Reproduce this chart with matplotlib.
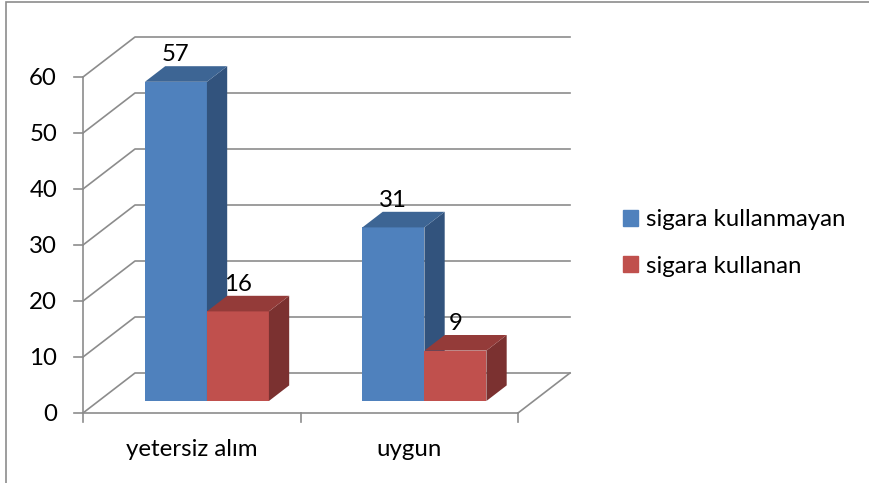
import matplotlib
matplotlib.use('Agg')
import matplotlib.pyplot as plt
from matplotlib.patches import Polygon, Patch, Rectangle

plt.rcParams['font.family'] = ['Lato', 'DejaVu Sans']

categories = ['yetersiz alım', 'uygun']
series_names = ['sigara kullanmayan', 'sigara kullanan']
values = [[57, 31], [16, 9]]
y_ticks = [0, 10, 20, 30, 40, 50, 60]

front_colors = ['#4F81BD', '#C0504D']
side_colors = ['#32537D', '#7B3130']
top_colors = ['#3D6594', '#943B39']

# pixel layout: origin of the plot floor and scale per unit
X0, Y0 = 83, 413
PPX, PPV = 217.5, 5.6

# oblique depth offset of the back wall (data units)
DX = 52 / PPX
DV = 40 / PPV
D0, D1 = 0.3, 0.69
BAR_W = 0.285
BAR_START = 0.213
FS = 17.3


def proj(x, v, d):
    return (x + d * DX, v + d * DV)


fig = plt.figure(figsize=(8.7, 4.83), dpi=100)
ax = fig.add_axes([0, 0, 1, 1])
ax.set_xlim(-X0 / PPX, (870 - X0) / PPX)
ax.set_ylim((Y0 - 483) / PPV, Y0 / PPV)
ax.axis('off')

grid = dict(color='#8C8C8C', lw=1.2, zorder=1)
ncat = len(categories)
for v in y_ticks:
    p0, p1, p2 = proj(0, v, 0), proj(0, v, 1), proj(ncat, v, 1)
    ax.plot([p0[0], p1[0], p2[0]], [p0[1], p1[1], p2[1]], **grid)
    # y tick marks and labels
    ax.plot([-9 / PPX, 0], [v, v], **grid)
    ax.text(-26 / PPX, v - 0.3, str(v), ha='right', va='center', fontsize=FS)

# floor edges and axes
ax.plot([0, ncat], [0, 0], **grid)
ax.plot([0, 0], [0, y_ticks[-1]], **grid)
a, b = proj(ncat, 0, 0), proj(ncat, 0, 1)
ax.plot([a[0], b[0]], [a[1], b[1]], **grid)
for i in range(ncat + 1):
    ax.plot([i, i], [0, -9 / PPV], **grid)
for i, c in enumerate(categories):
    ax.text(i + 0.5, -36 / PPV, c, ha='center', va='center', fontsize=FS)

# 3D bars: front face via ax.bar, side and top faces as polygons
for i in range(ncat):
    for j in range(len(series_names)):
        v = values[j][i]
        x0 = i + BAR_START + j * BAR_W
        x1 = x0 + BAR_W
        fx, fv = proj(x0, 0, D0)
        ax.bar(fx, v, width=BAR_W, bottom=fv, align='edge',
               color=front_colors[j], zorder=3)
        side = [proj(x1, 0, D0), proj(x1, 0, D1), proj(x1, v, D1), proj(x1, v, D0)]
        top = [proj(x0, v, D0), proj(x1, v, D0), proj(x1, v, D1), proj(x0, v, D1)]
        ax.add_patch(Polygon(side, closed=True, color=side_colors[j], lw=0, zorder=3))
        ax.add_patch(Polygon(top, closed=True, color=top_colors[j], lw=0, zorder=3))
        lx, _ = proj(x0 + BAR_W / 2, v, D0)
        _, ly = proj(x0, v, D1)
        ax.text(lx, ly + 0.2, str(v), ha='center', va='bottom', fontsize=FS, zorder=4)

handles = [Patch(color=c) for c in front_colors]
ax.legend(handles, series_names, loc='center left', bbox_to_anchor=(0.691, 0.497),
          frameon=False, fontsize=FS, handlelength=0.65, handleheight=0.65,
          handletextpad=0.33, labelspacing=1.06)

# outer chart frame
fig.patches.append(Rectangle((6 / 870, -0.1), 1.2, 1 - 2 / 483 + 0.1,
                             transform=fig.transFigure, fill=False,
                             edgecolor='#8C8C8C', lw=1.2))

fig.savefig('out.png', dpi=100)
